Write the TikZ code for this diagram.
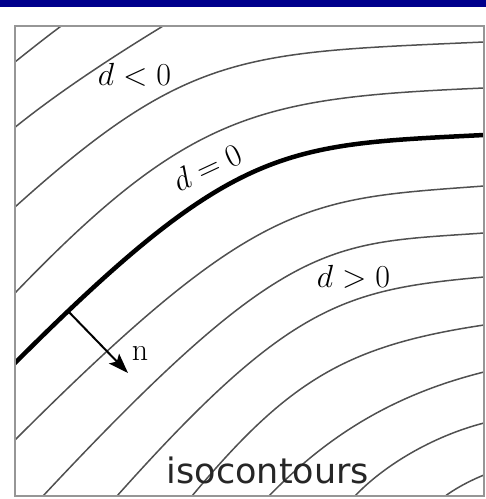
\documentclass[tikz,border=0pt]{standalone}
\usepackage{graphicx}
\usepackage{fontspec}
\newfontfamily\dejavu{DejaVu Sans}
\usetikzlibrary{arrows.meta}
\definecolor{barblue}{RGB}{0,0,140}
\definecolor{contourgray}{RGB}{80,80,80}
\definecolor{framegray}{RGB}{150,150,150}
\newcommand{\biglbl}[1]{\scalebox{1.286}{\fontsize{24.88}{30}\selectfont #1}}
\begin{document}
\begin{tikzpicture}[x=1pt,y=-1pt,
  contour/.style={draw=contourgray, line width=1.5pt},
  zeroline/.style={draw=black, line width=4.5pt},
  lbl/.style={inner sep=0pt},
  normalarrow/.style={draw=black, line width=2pt, -{Stealth[length=20pt,width=14pt,inset=4pt]}}]
\useasboundingbox (0,0) rectangle (486,499);
\fill[barblue] (0,0) rectangle (486,7);
\begin{scope}
  \clip (15,26) rectangle (484,496);
  % d < 0 side
  \draw[contour] (5,70) .. controls (28,51.5) and (48,35.5) .. (72,18);
  \draw[contour] (5,135.5) .. controls (46.2,101) and (103.9,61.4) .. (178,17);
  \draw[contour] (5,216) -- (15,207) .. controls (188.6,50.7) and (243.6,52.6) .. (484,42) -- (494,41.6);
  \draw[contour] (5,303.4) -- (15,293) .. controls (190.8,110.3) and (260.8,97.7) .. (484,88) -- (494,87.6);
  % d > 0 side
  \draw[contour] (5,450) -- (15,440) .. controls (258,197) and (307,199) .. (484,186) -- (494,185.3);
  \draw[contour] (36,503.5) -- (43,496) .. controls (287.1,234.8) and (329.1,243.8) .. (484,233) -- (494,232.3);
  \draw[contour] (110,504) -- (117,496) .. controls (288.5,303.9) and (344.1,289.6) .. (484,277) -- (494,276.1);
  \draw[contour] (186,503) -- (192,496) .. controls (288.9,379.7) and (347.3,345.5) .. (484,325) -- (494,323.5);
  \draw[contour] (260,505.3) -- (268,497) .. controls (331.2,431.5) and (399,393.2) .. (484,372) -- (494,369.5);
  \draw[contour] (347,504.5) -- (354,497) .. controls (383.2,465.7) and (432.8,436.1) .. (484,423) -- (494,420.3);
  \draw[contour] (436,503.2) -- (444,497) .. controls (453.4,489.6) and (469.4,480.8) .. (484,475) -- (494,471);
  % d = 0
  \draw[zeroline] (5,373) -- (15,363) .. controls (235,143) and (284,145) .. (484,135) -- (494,134.5);
\end{scope}
\draw[framegray, line width=1.5pt] (15,26) rectangle (484,496);
\coordinate (nstart) at (67,310);
\coordinate (ntip) at (128,373);
\draw[normalarrow] (nstart) -- (ntip);
\node[lbl, anchor=base] (dneg) at (134.5,85) {\biglbl{$d<0$}};
\node[lbl, anchor=center, rotate=25] (dzero) at (207,167) {\biglbl{$d=0$}};
\node[lbl, anchor=base] (dpos) at (353.5,287) {\biglbl{$d>0$}};
\node[lbl, anchor=base] (nlab) at (140,360) {\biglbl{n}};
\node[font=\dejavu\fontsize{35}{42}\selectfont, inner sep=0pt, anchor=base, text=black!85] (iso) at (268,483) {isocontours};
\end{tikzpicture}
\end{document}
